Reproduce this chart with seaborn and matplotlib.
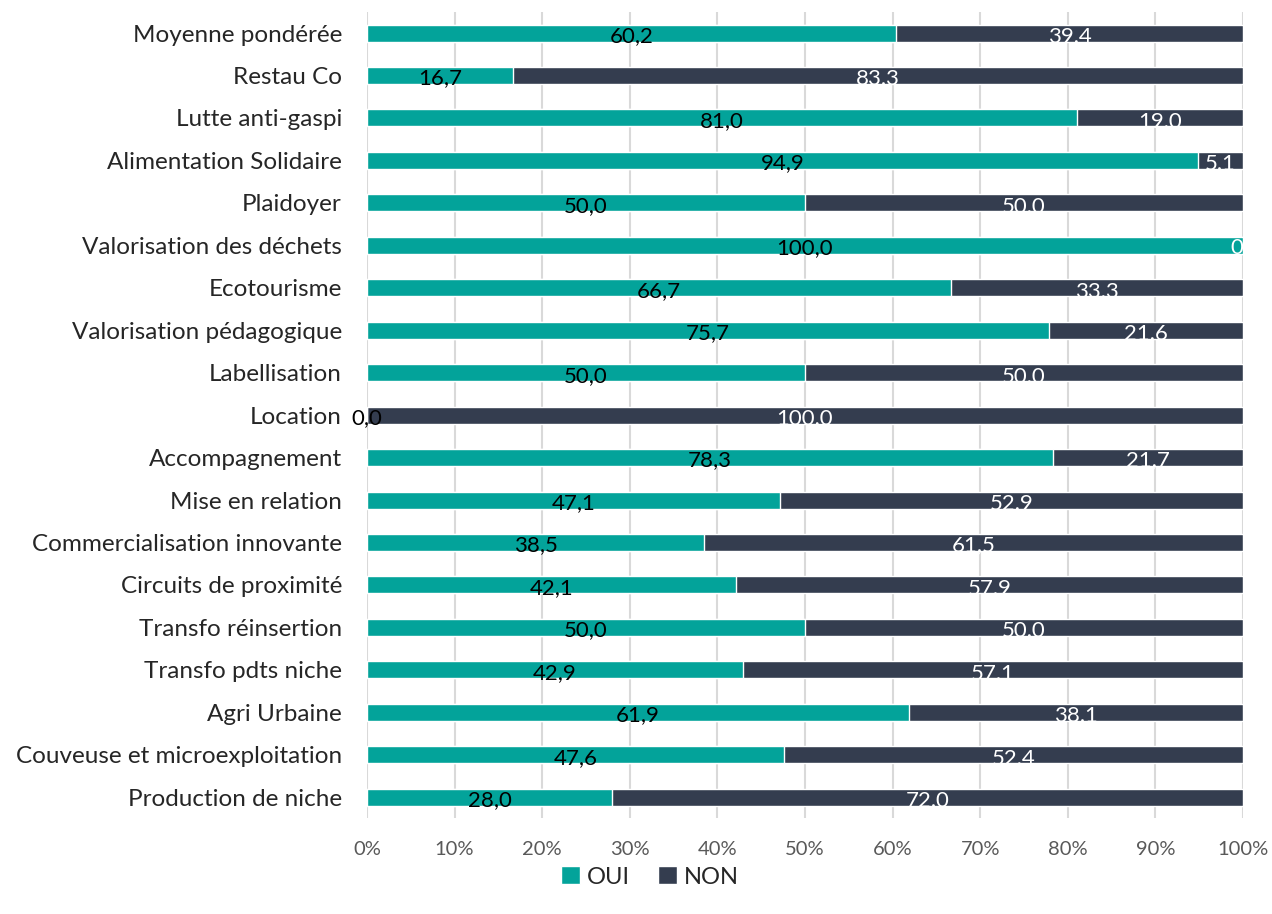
import numpy as np
import pandas as pd
import matplotlib
matplotlib.use("Agg")
import matplotlib.pyplot as plt
import seaborn as sns

# Données
categories = [
    "Moyenne pondérée", "Restau Co", "Lutte anti-gaspi", "Alimentation Solidaire",
    "Plaidoyer", "Valorisation des déchets", "Ecotourisme", "Valorisation pédagogique",
    "Labellisation", "Location", "Accompagnement", "Mise en relation",
    "Commercialisation innovante", "Circuits de proximité", "Transfo réinsertion",
    "Transfo pdts niche", "Agri Urbaine", "Couveuse et microexploitation",
    "Production de niche",
]
oui = [60.2, 16.7, 81.0, 94.9, 50.0, 100.0, 66.7, 75.7, 50.0, 0.0,
       78.3, 47.1, 38.5, 42.1, 50.0, 42.9, 61.9, 47.6, 28.0]
non = [39.4, 83.3, 19.0, 5.1, 50.0, 0.0, 33.3, 21.6, 50.0, 100.0,
       21.7, 52.9, 61.5, 57.9, 50.0, 57.1, 38.1, 52.4, 72.0]
oui_labels = ["60,2", "16,7", "81,0", "94,9", "50,0", "100,0", "66,7", "75,7", "50,0", "0,0",
              "78,3", "47,1", "38,5", "42,1", "50,0", "42,9", "61,9", "47,6", "28,0"]
non_labels = ["39,4", "83,3", "19,0", "5,1", "50,0", "0", "33,3", "21,6", "50,0", "100,0",
              "21,7", "52,9", "61,5", "57,9", "50,0", "57,1", "38,1", "52,4", "72,0"]

COL_OUI = "#03A39A"
COL_NON = "#343D4F"

df = pd.DataFrame({"cat": categories, "oui": oui, "non": non})
total = df["oui"] + df["non"]
df["oui_pct"] = df["oui"] / total * 100
df["tot_pct"] = 100.0

sns.set_style("white")
plt.rcParams["font.family"] = ["Lato", "DejaVu Sans"]

fig = plt.figure(figsize=(12.72, 9.14), dpi=100)
ax = fig.add_axes([0.2885, 0.1045, 0.6887, 0.8826])

sns.barplot(data=df, x="tot_pct", y="cat", color=COL_NON, width=0.4,
            saturation=1, ax=ax, orient="h", label="NON")
sns.barplot(data=df, x="oui_pct", y="cat", color=COL_OUI, width=0.4,
            saturation=1, ax=ax, orient="h", label="OUI")

# étiquettes
for i, row in df.iterrows():
    x_oui = row["oui_pct"]
    ax.text(x_oui / 2, i + 0.07, oui_labels[i], ha="center", va="center",
            fontsize=16, color="black")
    x_non = x_oui + (100 - x_oui) / 2
    if row["non"] == 0:
        ax.text(100, i + 0.07, non_labels[i], ha="right", va="center",
                fontsize=16, color="white")
    else:
        ax.text(x_non, i + 0.07, non_labels[i], ha="center", va="center",
                fontsize=16, color="white")

ax.set_xlim(0, 100)
ax.set_xticks(np.arange(0, 101, 10))
ax.set_xticklabels([f"{v}%" for v in range(0, 101, 10)], color="#595959", fontsize=14.5)
ax.tick_params(axis="y", labelsize=17.5, length=0, pad=18)
ax.tick_params(axis="x", length=0, pad=16)
ax.set_xlabel("")
ax.set_ylabel("")
ax.xaxis.grid(True, color="#D9D9D9", linewidth=1.5)
ax.set_axisbelow(True)
for s in ax.spines.values():
    s.set_visible(False)

handles, labels = ax.get_legend_handles_labels()
order = [labels.index("OUI"), labels.index("NON")]
ax.legend([handles[k] for k in order], ["OUI", "NON"], loc="center",
          bbox_to_anchor=(0.323, -0.0725), ncol=2, frameon=False, fontsize=17,
          handlelength=0.8, handleheight=0.8, handletextpad=0.3, columnspacing=1.2)

fig.savefig("out.png", dpi=100)
plt.close(fig)
